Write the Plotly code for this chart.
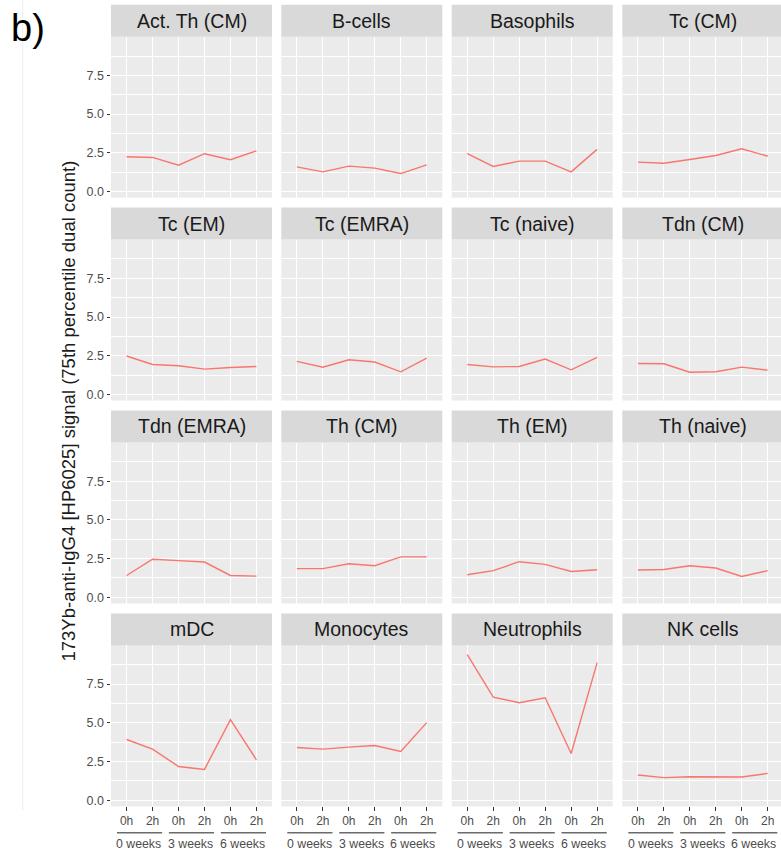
import plotly.graph_objects as go

# ---- data -------------------------------------------------------------
cell_types = [
    "Act. Th (CM)", "B-cells", "Basophils", "Tc (CM)",
    "Tc (EM)", "Tc (EMRA)", "Tc (naive)", "Tdn (CM)",
    "Tdn (EMRA)", "Th (CM)", "Th (EM)", "Th (naive)",
    "mDC", "Monocytes", "Neutrophils", "NK cells",
]
timepoints = ["0h", "2h", "0h", "2h", "0h", "2h"]
weeks = ["0 weeks", "3 weeks", "6 weeks"]

act_th_cm = [2.25, 2.20, 1.70, 2.44, 2.05, 2.63]
b_cells = [1.59, 1.27, 1.64, 1.51, 1.16, 1.72]
basophils = [2.44, 1.62, 1.96, 1.96, 1.27, 2.72]
tc_cm = [1.90, 1.83, 2.07, 2.33, 2.76, 2.28]
tc_em = [2.48, 1.93, 1.85, 1.63, 1.74, 1.80]
tc_emra = [2.13, 1.76, 2.24, 2.09, 1.46, 2.35]
tc_naive = [1.93, 1.78, 1.80, 2.28, 1.59, 2.39]
tdn_cm = [2.00, 1.98, 1.43, 1.46, 1.76, 1.57]
tdn_emra = [1.41, 2.46, 2.37, 2.28, 1.41, 1.37]
th_cm = [1.85, 1.85, 2.17, 2.04, 2.61, 2.61]
th_em = [1.46, 1.72, 2.30, 2.13, 1.67, 1.78]
th_naive = [1.76, 1.80, 2.04, 1.89, 1.35, 1.72]
mdc = [3.92, 3.30, 2.18, 1.99, 5.20, 2.61]
monocytes = [3.40, 3.30, 3.43, 3.53, 3.15, 5.01]
neutrophils = [9.40, 6.66, 6.30, 6.62, 3.02, 8.89]
nk_cells = [1.63, 1.46, 1.52, 1.52, 1.50, 1.73]

series = [
    act_th_cm, b_cells, basophils, tc_cm,
    tc_em, tc_emra, tc_naive, tdn_cm,
    tdn_emra, th_cm, th_em, th_naive,
    mdc, monocytes, neutrophils, nk_cells,
]

y_ticks = [0, 2.5, 5.0, 7.5]
y_tick_text = ["0.0", "2.5", "5.0", "7.5"]
y_minor = [1.25, 3.75, 6.25, 8.75]
y_title = "173Yb-anti-IgG4 [HP6025] signal (75th percentile dual count)"

# ---- page geometry (pixels) ------------------------------------------
W, H = 781, 854
FONT = "Liberation Sans"
LINE_COL = "#F8766D"
PANEL_BG = "#EBEBEB"
STRIP_BG = "#D9D9D9"
TICK_TXT = "#4D4D4D"

col_left = [111.0, 281.3, 451.7, 622.3]
panel_w = 161.0
row_top = [4.7 + 202.9 * r for r in range(4)]
strip_h = 32.0
panel_h = 161.0
x_lo = 0.4
unit = panel_w / 6.2
y_range = [-0.40, 10.0]


def px(x):
    return x / W


def py(y):
    return 1 - y / H


fig = go.Figure()
layout = dict(
    width=W, height=H,
    margin=dict(l=0, r=0, t=0, b=0),
    paper_bgcolor="white", plot_bgcolor=PANEL_BG,
    showlegend=False,
    font=dict(family=FONT, color=TICK_TXT),
)
shapes = []
annotations = []

xpos = list(range(1, len(timepoints) + 1))

for i, (name, vals) in enumerate(zip(cell_types, series)):
    r, c = divmod(i, 4)
    k = i + 1
    xa = "x" if k == 1 else f"x{k}"
    ya = "y" if k == 1 else f"y{k}"
    xkey = "xaxis" if k == 1 else f"xaxis{k}"
    ykey = "yaxis" if k == 1 else f"yaxis{k}"

    left = col_left[c]
    right = min(left + panel_w, W)
    top = row_top[r] + strip_h
    bottom = top + panel_h

    fig.add_trace(go.Scatter(
        x=xpos, y=vals, mode="lines", xaxis=xa, yaxis=ya,
        line=dict(color=LINE_COL, width=1.4), hoverinfo="skip",
    ))

    bottom_row = r == 3
    first_col = c == 0
    layout[xkey] = dict(
        domain=[px(left), px(right)],
        anchor=ya,
        range=[x_lo, x_lo + (right - left) / unit],
        tickvals=xpos, ticktext=timepoints,
        showticklabels=bottom_row,
        ticks="outside" if bottom_row else "",
        ticklen=3.5, tickwidth=1.1, tickcolor="#333333",
        tickfont=dict(family=FONT, size=12, color=TICK_TXT),
        showgrid=True, gridcolor="white", gridwidth=1.1,
        zeroline=False, showline=False, fixedrange=True,
    )
    layout[ykey] = dict(
        domain=[py(bottom), py(top)],
        anchor=xa,
        range=y_range,
        tickvals=y_ticks, ticktext=y_tick_text,
        showticklabels=first_col,
        ticks="outside" if first_col else "",
        ticklen=3.5, tickwidth=1.1, tickcolor="#333333",
        tickfont=dict(family=FONT, size=12.5, color=TICK_TXT),
        showgrid=True, gridcolor="white", gridwidth=1.1,
        minor=dict(tickvals=y_minor, showgrid=True,
                   gridcolor="white", gridwidth=0.55, ticks=""),
        zeroline=False, showline=False, fixedrange=True,
    )

    # facet strip
    shapes.append(dict(
        type="rect", xref="paper", yref="paper",
        x0=px(left), x1=px(right),
        y0=py(top), y1=py(row_top[r]),
        fillcolor=STRIP_BG, line=dict(width=0), layer="below",
    ))
    annotations.append(dict(
        text=name, xref="paper", yref="paper",
        x=px(left + panel_w / 2), y=py(row_top[r] + strip_h / 2),
        xanchor="center", yanchor="middle", showarrow=False,
        font=dict(family=FONT, size=19.5, color="#1A1A1A"),
    ))

    # nested week labels under the bottom row
    if bottom_row:
        for g, wk in enumerate(weeks):
            a, b = xpos[2 * g], xpos[2 * g + 1]
            shapes.append(dict(
                type="line", xref=xa, yref="paper",
                x0=a - 0.37, x1=b + 0.37,
                y0=py(832.7), y1=py(832.7),
                line=dict(color="#6B6B6B", width=1.5),
            ))
            annotations.append(dict(
                text=wk, xref=xa, yref="paper",
                x=(a + b) / 2 - 0.03, y=py(843.5),
                xanchor="center", yanchor="middle", showarrow=False,
                font=dict(family=FONT, size=12.3, color=TICK_TXT),
            ))

# shared y-axis title
annotations.append(dict(
    text=y_title, xref="paper", yref="paper",
    x=px(67.5), y=py(411), textangle=-90,
    xanchor="center", yanchor="middle", showarrow=False,
    font=dict(family=FONT, size=18.5, color="#1A1A1A"),
))

# panel label
annotations.append(dict(
    text="b)", xref="paper", yref="paper",
    x=px(9), y=py(28), xanchor="left", yanchor="middle",
    showarrow=False, font=dict(family=FONT, size=38, color="black"),
))

# thin frame line at the left edge of the figure
shapes.append(dict(
    type="line", xref="paper", yref="paper",
    x0=px(22.7), x1=px(22.7), y0=py(0), y1=py(810),
    line=dict(color="#EDEDED", width=1),
))

layout["shapes"] = shapes
layout["annotations"] = annotations
fig.update_layout(**layout)

fig.write_html("out.html")
